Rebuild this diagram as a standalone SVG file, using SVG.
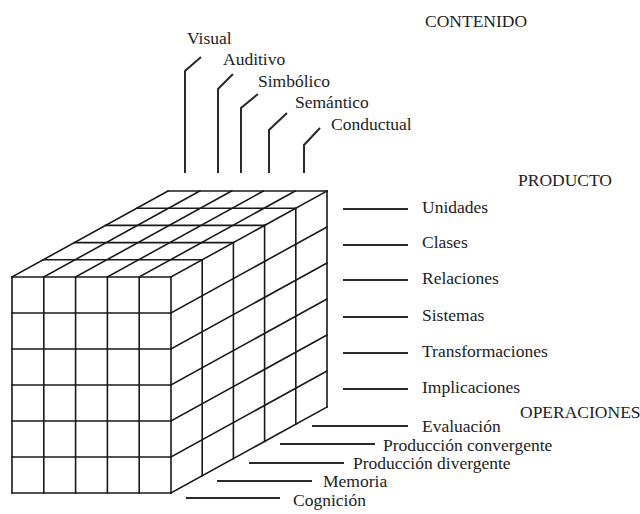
<svg xmlns="http://www.w3.org/2000/svg" width="640" height="514" viewBox="0 0 640 514">
<style>
.g{stroke:#1a1a1a;stroke-width:1.6;fill:none;stroke-linecap:square}
.c{stroke:#2a2a2a;stroke-width:2;fill:none}
.t{font-family:'Liberation Serif','Times New Roman',Times,serif;font-size:17.5px;fill:#222}
</style>
<rect width="640" height="514" fill="#fff"/>
<g id="cube" class="g">
<path d="M12,277H171M43.2,259.8H202.2M74.4,242.6H233.4M105.6,225.4H264.6M136.8,208.2H295.8M168,191H327"/>
<path d="M12,277L168,191M43.8,277L199.8,191M75.6,277L231.6,191M107.4,277L263.4,191M139.2,277L295.2,191M171,277L327,191"/>
<path d="M12,277V493M43.8,277V493M75.6,277V493M107.4,277V493M139.2,277V493M171,277V493"/>
<path d="M12,313H171M12,349H171M12,385H171M12,421H171M12,457H171M12,493H171"/>
<path d="M171,313L327,227M171,349L327,263M171,385L327,299M171,421L327,335M171,457L327,371M171,493L327,407"/>
<path d="M202.2,259.8V475.8M233.4,242.6V458.6M264.6,225.4V441.4M295.8,208.2V424.2M327,191V407"/>
</g>
<g id="connectors" class="c">
<polyline points="185,173 185,71 201,57"/>
<polyline points="218,173 218,89 233,74"/>
<polyline points="241,173 241,108 258,94"/>
<polyline points="269,173 269,130 287,113"/>
<polyline points="304,173 304,145 320,128"/>
<path d="M343,209H408M343,245H408M343,280H408M343,317H408M343,353H408M343,389H408"/>
<path d="M312,426H408M280,444H375M249,463H344M217,481H312M186,498H280"/>
</g>
<g class="t">
<g id="contenido"><text x="425" y="27">CONTENIDO</text></g>
<g id="visual"><text x="187" y="44">Visual</text></g>
<g id="auditivo"><text x="223" y="65">Auditivo</text></g>
<g id="simbolico"><text x="258" y="87">Simbólico</text></g>
<g id="semantico"><text x="295" y="108">Semántico</text></g>
<g id="conductual"><text x="331" y="130">Conductual</text></g>
<g id="producto"><text x="518" y="186">PRODUCTO</text></g>
<g id="unidades"><text x="422" y="213">Unidades</text></g>
<g id="clases"><text x="422" y="248">Clases</text></g>
<g id="relaciones"><text x="422" y="284">Relaciones</text></g>
<g id="sistemas"><text x="422" y="321">Sistemas</text></g>
<g id="transformaciones"><text x="422" y="357">Transformaciones</text></g>
<g id="implicaciones"><text x="422" y="393">Implicaciones</text></g>
<g id="operaciones"><text x="520" y="418">OPERACIONES</text></g>
<g id="evaluacion"><text x="422" y="432">Evaluación</text></g>
<g id="prod-conv"><text x="383" y="451">Producción convergente</text></g>
<g id="prod-div"><text x="353" y="469">Producción divergente</text></g>
<g id="memoria"><text x="323" y="487">Memoria</text></g>
<g id="cognicion"><text x="293" y="506">Cognición</text></g>
</g>
</svg>
